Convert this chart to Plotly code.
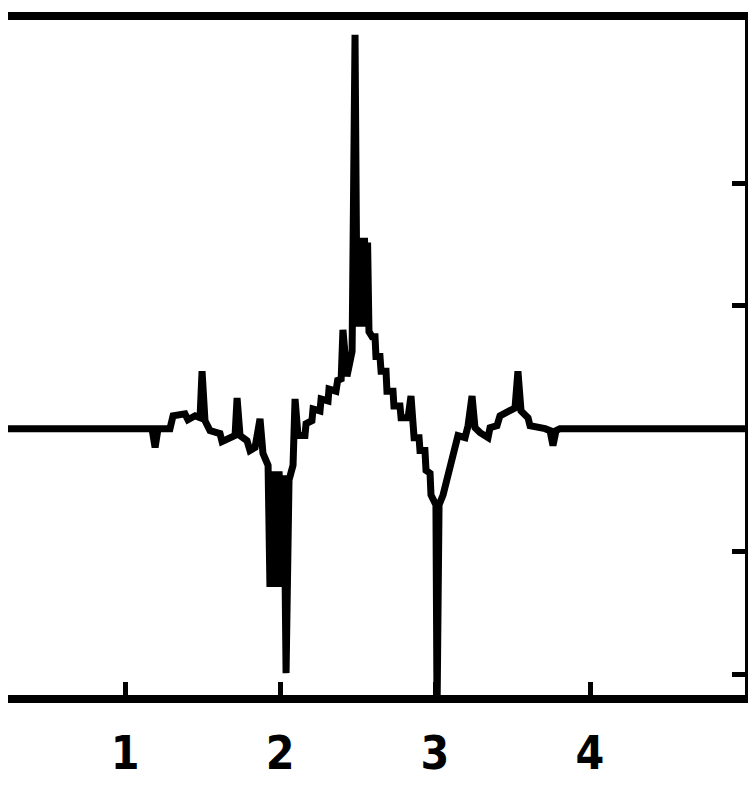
import plotly.graph_objects as go

# Curve values (x in axis units, y in tick units)
x_vals = [0.10, 1.148, 1.174, 1.194, 1.213, 1.290, 1.310, 1.387, 1.406, 1.452,
          1.484, 1.497, 1.516, 1.548, 1.613, 1.626, 1.710, 1.723, 1.742, 1.787,
          1.806, 1.839, 1.871, 1.890, 1.923, 1.935, 1.955, 1.974, 1.994, 2.013,
          2.026, 2.039, 2.058, 2.084, 2.097, 2.116, 2.161, 2.168, 2.206, 2.213,
          2.258, 2.265, 2.310, 2.316, 2.361, 2.374, 2.394, 2.406, 2.432, 2.465,
          2.484, 2.497, 2.506, 2.516, 2.526, 2.535, 2.545, 2.555, 2.565, 2.574,
          2.594, 2.613, 2.619, 2.645, 2.652, 2.684, 2.690, 2.729, 2.735, 2.774,
          2.781, 2.826, 2.845, 2.865, 2.897, 2.903, 2.935, 2.942, 2.968, 2.974,
          3.006, 3.013, 3.026, 3.052, 3.084, 3.116, 3.148, 3.194, 3.213, 3.239,
          3.258, 3.290, 3.342, 3.355, 3.400, 3.419, 3.484, 3.516, 3.535, 3.555,
          3.600, 3.613, 3.710, 3.742, 3.761, 3.781, 3.806, 5.20]
y_vals = [0.0, 0.0, 0.0, -0.153, 0.0, 0.0, 0.105, 0.121, 0.073, 0.105,
          0.089, 0.468, 0.065, -0.016, -0.040, -0.105, -0.056, 0.250, -0.056, -0.097,
          -0.177, -0.153, 0.081, -0.202, -0.298, -1.290, -0.347, -1.290, -0.347, -1.290,
          -0.379, -1.992, -0.419, -0.298, 0.242, -0.056, -0.056, 0.040, 0.065, 0.161,
          0.145, 0.242, 0.226, 0.323, 0.306, 0.411, 0.387, 0.806, 0.427, 0.629,
          3.210, 0.831, 1.556, 0.831, 1.556, 0.831, 1.556, 0.831, 1.516, 0.790,
          0.750, 0.750, 0.589, 0.589, 0.468, 0.468, 0.306, 0.306, 0.185, 0.185,
          0.089, 0.089, 0.266, -0.073, -0.073, -0.177, -0.177, -0.339, -0.363, -0.540,
          -0.621, -2.310, -0.621, -0.540, -0.379, -0.177, -0.056, -0.073, 0.024, 0.266,
          0.008, -0.032, -0.073, 0.008, 0.024, 0.105, 0.145, 0.169, 0.468, 0.145,
          0.089, 0.024, 0.0, -0.016, -0.137, -0.016, 0.0, 0.0]

x_ticks = [1, 2, 3, 4]
x_tick_labels = ["1", "2", "3", "4"]
y_ticks = [-2, -1, 0, 1, 2]

fig = go.Figure()
fig.add_trace(go.Scatter(
    x=x_vals, y=y_vals, mode="lines",
    line=dict(color="black", width=7),
    showlegend=False, hoverinfo="skip",
))

fig.update_layout(
    width=748, height=772,
    margin=dict(l=0, r=11, t=12, b=72),
    paper_bgcolor="white", plot_bgcolor="white",
    showlegend=False,
)
fig.update_xaxes(
    range=[0.245, 5.0],
    showgrid=False, zeroline=False,
    showline=True, linecolor="black", linewidth=8, mirror=True,
    ticks="inside", ticklen=13, tickwidth=5, tickcolor="black",
    tickvals=x_ticks, ticktext=x_tick_labels,
    tickfont=dict(family="Liberation Sans Narrow, DejaVu Sans Condensed, sans-serif",
                  size=46, color="black", weight="bold"),
    ticklabelstandoff=11,
)
fig.update_yaxes(
    range=[-2.17, 3.33], side="right",
    showgrid=False, zeroline=False,
    showline=True, linecolor="black", linewidth=8, mirror=False,
    ticks="inside", ticklen=13, tickwidth=5, tickcolor="black",
    tickvals=y_ticks, showticklabels=False,
)

fig.write_html("out.html")
